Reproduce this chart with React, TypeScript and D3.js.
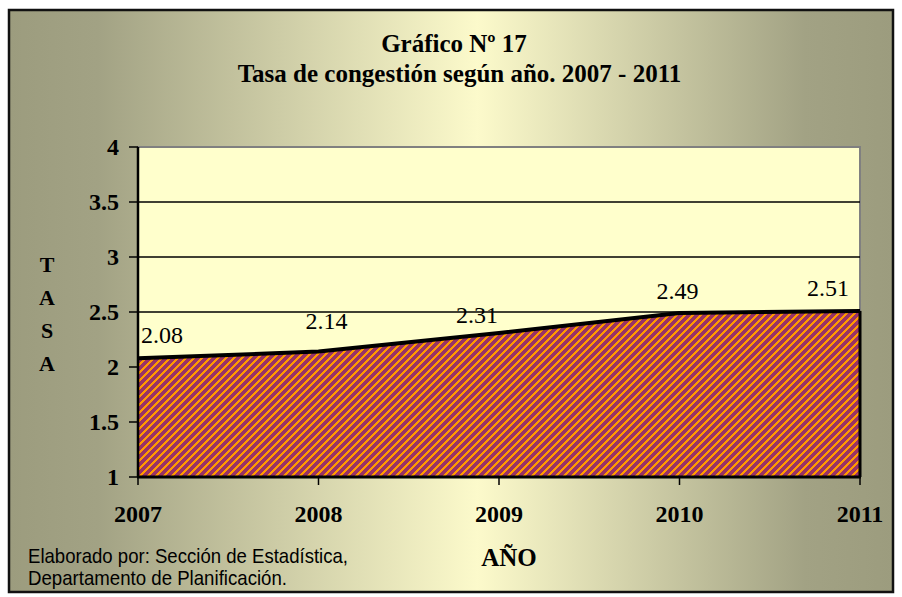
import React from "react";
import * as d3 from "d3";

const years = [2007, 2008, 2009, 2010, 2011];
const rates = [2.08, 2.14, 2.31, 2.49, 2.51];
const yTicks = [1, 1.5, 2, 2.5, 3, 3.5, 4];
const titleLines = ["Gráfico Nº 17", "Tasa de congestión según año. 2007 - 2011"];
const yTitleLetters = ["T", "A", "S", "A"];
const xTitle = "AÑO";
const footerLines = ["Elaborado por: Sección de Estadística,", "Departamento de Planificación."];

const W = 902;
const H = 597;
const plot = { left: 138, right: 860, top: 147, bottom: 477 };

export default function App() {
  const x = d3.scaleLinear().domain([2007, 2011]).range([plot.left, plot.right]);
  const y = d3.scaleLinear().domain([1, 4]).range([plot.bottom, plot.top]);

  const pts = years.map((yr, i) => ({ yr, v: rates[i] }));
  const area = d3
    .area<{ yr: number; v: number }>()
    .x((d) => x(d.yr))
    .y0(y(1))
    .y1((d) => y(d.v))(pts) as string;
  const line = d3
    .line<{ yr: number; v: number }>()
    .x((d) => x(d.yr))
    .y((d) => y(d.v))(pts) as string;

  // label nudges (layout, px)
  const labelDx = [24, 8, -22, -2, -32];
  const labelDy = [-15, -23, -10, -14, -15];
  const footerWidths = [320, 259];

  const serif = "'Liberation Serif', 'Times New Roman', serif";
  const sans = "'Liberation Sans', Arial, sans-serif";

  return (
    <svg
      width={W}
      height={H}
      style={{ position: "absolute", left: 0, top: 0 }}
      xmlns="http://www.w3.org/2000/svg"
    >
      <defs>
        <linearGradient id="bg" x1="0" y1="0" x2="1" y2="0">
          <stop offset="0" stopColor="#9c9c7e" />
          <stop offset="0.1" stopColor="#a2a284" />
          <stop offset="0.53" stopColor="#fcfacb" />
          <stop offset="0.9" stopColor="#a2a284" />
          <stop offset="1" stopColor="#9c9c7e" />
        </linearGradient>
        <pattern id="hatch" width="8" height="8" patternUnits="userSpaceOnUse">
          <rect width="8" height="8" fill="#993366" />
          <path
            d="M-2,2 L2,-2 M0,8 L8,0 M6,10 L10,6"
            stroke="#ff9900"
            strokeWidth="2.1"
            shapeRendering="crispEdges"
          />
        </pattern>
      </defs>

      {/* background frame */}
      <rect x={9} y={10} width={884} height={582} fill="url(#bg)" stroke="#111" strokeWidth={2.5} />

      {/* titles */}
      {titleLines.map((t, i) => (
        <text
          key={t}
          x={i === 0 ? 454 : 459.5}
          y={52 + i * 30}
          textAnchor="middle"
          fontFamily={serif}
          fontWeight="bold"
          fontSize={25}
          fill="#000"
        >
          {t}
        </text>
      ))}

      {/* plot area */}
      <rect
        x={plot.left}
        y={plot.top}
        width={plot.right - plot.left}
        height={plot.bottom - plot.top}
        fill="#ffffcc"
        stroke="#808080"
        strokeWidth={2}
      />

      {/* gridlines */}
      {yTicks
        .filter((t) => t > 1 && t < 4)
        .map((t) => (
          <line
            key={t}
            x1={plot.left}
            x2={plot.right}
            y1={y(t)}
            y2={y(t)}
            stroke="#000"
            strokeWidth={1.5}
          />
        ))}

      {/* area */}
      <path d={area} fill="url(#hatch)" stroke="none" />
      <path d={line} fill="none" stroke="#000" strokeWidth={4} strokeLinejoin="round" />
      <line
        x1={x(2011)}
        x2={x(2011)}
        y1={y(rates[rates.length - 1])}
        y2={y(1)}
        stroke="#000"
        strokeWidth={3}
      />

      {/* axes */}
      <line x1={plot.left} x2={plot.left} y1={plot.top} y2={plot.bottom} stroke="#000" strokeWidth={2.5} />
      <line x1={plot.left - 1} x2={plot.right + 1} y1={plot.bottom} y2={plot.bottom} stroke="#000" strokeWidth={3} />

      {yTicks.map((t) => (
        <g key={t}>
          <line x1={plot.left - 9} x2={plot.left} y1={y(t)} y2={y(t)} stroke="#000" strokeWidth={1.5} />
          <text
            x={plot.left - 19}
            y={y(t)}
            dy="0.35em"
            textAnchor="end"
            fontFamily={serif}
            fontWeight="bold"
            fontSize={24}
          >
            {d3.format("")(t)}
          </text>
        </g>
      ))}

      {years.map((yr) => (
        <g key={yr}>
          <line x1={x(yr)} x2={x(yr)} y1={plot.bottom} y2={plot.bottom + 8} stroke="#000" strokeWidth={1.5} />
          <text
            x={x(yr)}
            y={522}
            textAnchor="middle"
            fontFamily={serif}
            fontWeight="bold"
            fontSize={24}
          >
            {yr}
          </text>
        </g>
      ))}

      {/* data labels */}
      {pts.map((d, i) => (
        <text
          key={d.yr}
          x={x(d.yr) + labelDx[i]}
          y={y(d.v) + labelDy[i]}
          textAnchor="middle"
          fontFamily={serif}
          fontSize={24}
        >
          {d3.format(".2f")(d.v)}
        </text>
      ))}

      {/* y title */}
      {yTitleLetters.map((l, i) => (
        <text
          key={i}
          x={47}
          y={272 + i * 33}
          textAnchor="middle"
          fontFamily={serif}
          fontWeight="bold"
          fontSize={22}
        >
          {l}
        </text>
      ))}

      {/* x title */}
      <text x={509} y={566} textAnchor="middle" fontFamily={serif} fontWeight="bold" fontSize={25}>
        {xTitle}
      </text>

      {/* footer */}
      {footerLines.map((l, i) => (
        <text
          key={i}
          x={28}
          y={563 + i * 22}
          fontFamily={sans}
          fontSize={21}
          textLength={footerWidths[i]}
          lengthAdjust="spacingAndGlyphs"
        >
          {l}
        </text>
      ))}
    </svg>
  );
}
